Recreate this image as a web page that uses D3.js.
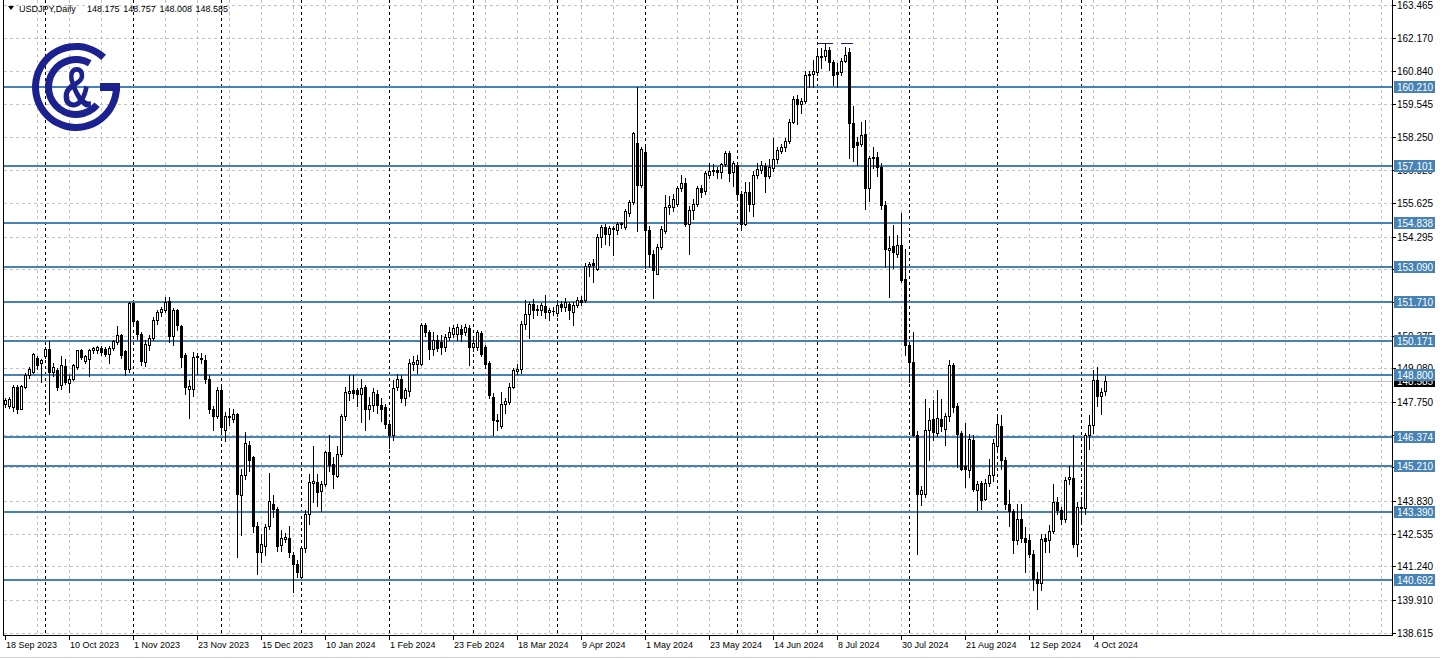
<!DOCTYPE html>
<html><head><meta charset="utf-8">
<script src="https://cdn.jsdelivr.net/npm/d3@7"></script>
<style>html,body{margin:0;padding:0;background:#fff;overflow:hidden}</style>
</head><body><svg id="c" width="1440" height="659"></svg>
<script>
// ---------- DATA ----------
const symbolTitle = "USDJPY,Daily";
const headerValues = ["148.175", "148.757", "148.008", "148.585"];
const startDate = "2023-09-18";
const holidays = ["2023-12-25", "2024-01-01"];

const opens = [147.65,147.60,147.55,148.34,147.48,148.35,148.83,148.95,149.49,149.30,
149.57,149.83,148.93,149.00,148.40,149.15,148.48,148.67,149.13,149.79,
149.38,149.46,149.79,149.80,149.88,149.86,149.66,149.90,150.12,150.39,
149.75,149.05,151.65,150.95,150.45,149.33,150.00,150.28,150.98,151.29,
151.40,151.73,150.35,151.38,150.75,149.59,148.26,148.27,149.53,149.45,
149.42,148.67,147.48,147.19,148.20,146.65,147.15,147.08,147.28,144.08,
144.84,146.05,145.56,142.85,141.80,142.06,142.85,143.71,143.52,142.07,
142.30,142.35,141.69,141.33,140.81,141.95,143.29,144.55,144.57,144.22,
144.48,145.76,145.30,144.81,145.67,147.17,148.10,148.20,148.20,148.07,
148.34,147.48,147.61,148.07,147.61,147.55,146.88,146.42,148.34,148.67,
147.92,148.17,149.26,149.26,149.26,150.78,150.52,149.86,150.19,150.12,
149.92,150.32,150.45,150.45,150.65,150.50,150.68,149.92,149.92,150.49,
149.92,149.29,147.94,146.98,146.80,147.65,147.74,148.34,148.97,149.06,
150.85,151.24,151.61,151.40,151.40,151.55,151.32,151.35,151.28,151.64,
151.51,151.64,151.30,151.57,151.78,151.77,153.13,153.25,153.00,154.28,
154.68,154.38,154.60,154.55,154.80,154.68,155.21,155.67,158.00,156.33,
157.65,154.55,153.62,152.83,153.89,154.51,155.45,155.47,155.60,156.20,
156.40,154.81,155.33,155.60,156.22,156.10,156.75,156.90,156.95,156.85,
157.15,157.60,156.86,157.12,155.99,154.81,156.04,155.60,156.75,156.95,
157.10,156.68,157.00,157.38,157.70,157.85,158.08,158.85,159.76,159.55,
159.65,160.70,160.75,160.80,161.42,161.45,161.70,161.22,160.80,160.80,
161.25,161.60,158.78,158.05,157.95,158.35,156.20,157.40,157.45,157.05,
155.54,153.78,153.91,153.62,153.98,152.63,149.99,149.33,146.42,144.11,
144.11,146.62,147.08,146.53,147.08,146.69,147.20,149.22,147.57,146.53,
145.19,145.04,146.25,144.25,144.53,143.91,144.53,144.87,146.00,146.78,
145.43,143.69,143.42,142.26,143.12,142.37,142.26,141.73,140.74,140.57,
142.37,142.26,142.62,143.78,143.45,143.12,144.70,144.75,142.13,143.58,
143.55,146.42,146.82,148.60,148.00,148.175];

const highs = [147.92,147.94,148.43,148.40,148.42,148.88,149.12,149.70,149.57,149.43,
149.93,150.15,149.30,149.10,149.57,149.45,148.80,149.25,149.82,149.83,
149.60,149.83,149.93,149.97,149.95,149.92,149.95,150.20,150.76,150.45,
149.80,151.72,151.72,151.00,150.50,150.19,150.39,151.09,151.40,151.50,
151.90,151.90,151.45,151.43,150.80,149.70,148.60,149.72,149.70,149.70,
149.60,148.80,147.60,148.35,148.47,147.35,147.50,147.48,147.30,145.10,
146.55,146.20,145.60,143.00,142.50,142.90,144.95,144.08,143.60,142.66,
142.55,142.85,141.80,141.50,142.05,143.45,144.90,146.00,144.90,144.60,
145.80,146.42,145.55,146.00,147.27,148.34,148.83,148.80,148.30,148.67,
148.40,147.95,148.30,148.20,147.90,147.65,147.00,148.60,148.85,148.80,
148.30,149.45,149.58,149.60,150.88,150.88,150.60,150.52,150.40,150.38,
150.45,150.72,150.80,150.85,150.80,150.85,150.80,150.25,150.60,150.55,
150.00,149.35,148.10,147.28,148.14,147.90,148.50,149.10,149.26,150.95,
151.80,151.70,151.84,151.60,151.65,151.97,151.45,151.50,151.73,151.75,
151.87,151.70,151.70,151.90,151.93,153.24,153.28,153.40,154.40,154.75,
154.79,154.72,154.70,154.86,154.88,155.37,155.75,158.45,160.23,157.86,
157.95,154.70,153.75,154.00,154.70,155.93,155.90,156.00,156.30,156.75,
156.60,155.50,155.80,156.30,156.35,156.90,157.20,157.15,157.05,157.20,
157.70,157.70,157.30,157.20,156.10,156.46,156.45,156.90,157.20,157.30,
157.20,157.35,158.18,157.85,157.95,158.20,158.95,159.85,159.90,159.80,
160.85,160.85,161.30,161.70,161.75,161.95,161.80,161.30,161.15,161.35,
161.80,161.75,159.45,158.25,158.84,158.90,157.50,157.85,157.65,157.20,
155.70,154.30,154.74,154.35,155.21,153.82,150.00,150.50,146.60,144.40,
147.87,147.52,147.81,148.20,147.88,147.30,149.39,149.30,147.70,146.60,
146.90,146.49,146.42,144.60,144.60,144.70,145.50,146.29,147.21,147.21,
145.55,144.24,143.50,143.71,143.70,142.80,142.50,141.90,141.00,142.50,
142.50,142.86,144.50,143.98,143.60,144.77,145.19,146.45,143.80,144.00,
146.50,147.24,149.00,149.13,148.30,148.757];

const lows = [147.55,147.51,147.37,147.30,147.45,148.30,148.70,148.90,149.06,148.54,
149.50,147.28,148.78,148.20,148.27,148.45,148.14,148.62,149.05,149.45,
149.30,148.78,149.70,149.70,149.62,149.58,149.30,149.80,150.05,149.50,
148.80,148.95,150.80,150.25,149.20,149.16,149.82,150.19,150.85,151.15,
151.30,150.12,150.02,150.60,149.12,148.05,147.11,147.97,148.87,149.30,
148.50,147.30,146.65,147.12,146.60,146.20,146.85,146.95,141.60,142.46,
144.70,145.00,142.60,140.94,141.40,141.70,142.70,143.20,141.85,141.84,
142.20,141.60,140.21,140.80,140.78,141.80,142.90,143.80,143.62,143.41,
144.40,145.00,144.35,144.78,145.60,147.02,147.84,147.90,147.60,146.97,
146.62,147.08,147.40,147.30,147.00,146.70,145.92,146.22,148.20,147.75,
147.61,148.00,149.00,148.90,149.20,150.35,149.46,149.60,149.75,149.66,
149.77,150.20,150.30,150.20,150.15,150.40,149.20,149.75,149.80,149.55,
149.10,147.90,146.42,146.62,146.70,147.30,147.65,148.30,148.85,148.90,
150.65,150.26,151.05,151.20,151.20,151.05,150.98,151.20,151.15,151.35,
151.35,151.03,150.80,151.50,151.57,151.70,152.75,152.50,152.97,153.90,
154.00,153.95,153.55,154.40,154.65,154.60,155.10,155.60,154.50,156.25,
153.05,153.10,151.85,152.80,153.80,154.45,155.20,155.30,155.50,156.10,
154.70,153.60,155.00,155.50,155.85,156.00,156.60,156.75,156.60,156.60,
157.10,156.50,156.30,155.75,154.55,154.75,155.30,155.10,156.60,156.80,
156.05,156.60,156.90,157.20,157.60,157.70,158.00,158.80,158.75,159.20,
159.60,160.20,160.20,160.70,160.96,161.30,160.90,160.30,160.20,160.70,
161.20,157.39,157.30,157.12,157.90,155.40,155.70,157.00,156.70,155.40,
153.09,151.90,153.03,153.50,152.50,149.59,148.54,146.40,141.73,143.65,
144.00,145.43,146.22,146.40,146.60,146.03,147.00,147.35,145.17,145.05,
144.37,144.77,144.20,143.45,143.50,143.85,144.40,144.60,145.90,145.10,
143.50,142.85,141.76,142.10,142.20,141.00,141.60,140.28,139.55,140.28,
141.80,141.80,142.55,143.30,142.90,143.00,144.50,142.00,141.65,142.95,
143.30,145.90,146.50,147.60,147.28,148.008];

const closes = [147.82,147.85,148.34,147.48,148.38,148.83,149.04,149.63,149.22,149.40,
149.83,148.93,149.13,148.34,149.20,148.55,148.67,149.20,149.79,149.53,
149.55,149.79,149.90,149.92,149.72,149.66,149.90,150.15,150.39,149.59,
149.05,151.65,150.95,150.45,149.35,150.05,150.28,151.01,151.31,151.44,
151.70,150.36,151.38,150.78,149.53,148.34,148.36,149.53,149.56,149.50,
148.67,147.48,147.19,148.20,146.75,147.20,147.20,147.28,144.11,144.84,
146.13,145.43,142.85,141.82,142.13,142.79,143.81,143.50,142.06,142.35,
142.40,141.80,141.33,141.00,141.97,143.29,144.57,144.62,144.18,144.48,
145.76,145.23,144.88,145.67,147.17,148.14,148.17,148.10,148.07,148.31,
147.48,147.61,148.14,147.61,147.45,146.88,146.42,148.31,148.67,147.92,
148.21,149.30,149.32,149.40,150.78,150.52,149.86,150.19,149.90,149.92,
150.32,150.52,150.67,150.70,150.45,150.72,149.92,150.08,150.52,149.66,
149.26,148.03,147.02,147.02,147.65,147.77,148.34,149.00,149.06,150.85,
151.24,151.61,151.37,151.44,151.57,151.32,151.38,151.36,151.57,151.51,
151.71,151.38,151.57,151.80,151.72,153.13,153.22,153.15,154.28,154.67,
154.39,154.65,154.62,154.81,154.85,155.31,155.67,158.38,156.33,157.78,
154.55,153.62,152.96,153.89,154.61,155.47,155.54,155.80,156.20,156.40,
154.81,155.33,155.60,156.20,156.05,156.80,156.90,156.95,156.85,157.15,
157.60,156.80,157.19,156.00,154.81,156.04,155.60,156.73,156.99,157.12,
156.68,157.05,157.38,157.72,157.85,158.08,158.85,159.76,159.55,159.68,
160.70,160.75,160.85,161.45,161.46,161.70,161.22,160.69,160.72,161.25,
161.50,158.78,157.85,157.94,158.31,156.20,157.40,157.45,157.05,155.55,
153.82,153.85,153.69,153.98,152.59,149.99,149.33,146.42,144.11,144.24,
146.62,147.04,146.55,147.12,146.79,147.17,149.22,147.55,146.49,145.10,
145.10,146.29,144.31,144.50,143.85,144.53,144.87,146.13,146.88,145.43,
143.69,143.42,142.26,143.12,142.37,142.20,141.73,140.74,140.57,142.33,
142.23,142.62,143.78,143.45,143.12,144.64,144.77,142.13,143.58,143.55,
146.42,146.82,148.60,148.00,148.13,148.585];

const levels = [160.210, 157.101, 154.838, 153.090, 151.710, 150.171, 148.800, 146.374, 145.210, 143.390, 140.692];
const lastPrice = 148.585;
const priceTicks = [163.465,162.170,160.840,159.545,158.250,156.920,155.625,154.295,153.000,151.705,150.375,149.080,147.750,146.455,145.160,143.830,142.535,141.240,139.910,138.615];
const dateTickLabels = ["18 Sep 2023","10 Oct 2023","1 Nov 2023","23 Nov 2023","15 Dec 2023","10 Jan 2024","1 Feb 2024","23 Feb 2024","18 Mar 2024","9 Apr 2024","1 May 2024","23 May 2024","14 Jun 2024","8 Jul 2024","30 Jul 2024","21 Aug 2024","12 Sep 2024","4 Oct 2024"];
const dateTickStep = 16;
const peakMarkers = [[203, 207, 161.95], [209, 212, 161.95]];

// ---------- TRADING DAYS ----------
const fmt = d3.timeFormat("%Y-%m-%d");
const dates = [];
{
  let d = d3.timeParse("%Y-%m-%d")(startDate);
  while (dates.length < closes.length) {
    const wd = d.getDay();
    if (wd !== 0 && wd !== 6 && !holidays.includes(fmt(d))) dates.push(new Date(d));
    d = d3.timeDay.offset(d, 1);
  }
}
const bars = dates.map((d, i) => ({d, i, o: opens[i], h: highs[i], l: lows[i], c: closes[i]}));
const monthStarts = bars.filter((b, i) => i > 0 && b.d.getMonth() !== bars[i - 1].d.getMonth()).map(b => b.i);

// ---------- LAYOUT ----------
const svg = d3.select("#c");
const L = 4, R = 1392, T = 0, B = 635;
const x = d3.scaleLinear().domain([0, 347]).range([5, 5 + 4 * 347]);
const y = d3.scaleLinear().domain([138.615, 163.465]).range([632.5, 5]);
const font = "'Liberation Sans', Arial, sans-serif";
const ry = v => Math.round(y(v));

svg.append("rect").attr("width", 1440).attr("height", 659).attr("fill", "#fff");

// grid
const grid = svg.append("g");
for (let k = 1; x(8 * k) < R; k++) {
  const xx = x(8 * k) + 0.5;
  grid.append("line").attr("x1", xx).attr("x2", xx).attr("y1", T).attr("y2", B)
    .attr("stroke", "#c3c3c3").attr("stroke-dasharray", "3,3");
}
priceTicks.forEach(p => {
  grid.append("line").attr("x1", L).attr("x2", R).attr("y1", ry(p) + 0.5).attr("y2", ry(p) + 0.5)
    .attr("stroke", "#c3c3c3").attr("stroke-dasharray", "3,3");
});
monthStarts.forEach(i => {
  const xx = x(i) + 0.5;
  grid.append("line").attr("x1", xx).attr("x2", xx).attr("y1", T).attr("y2", B)
    .attr("stroke", "#000").attr("stroke-dasharray", "3,3");
});

// last price line
svg.append("line").attr("x1", L).attr("x2", R).attr("y1", ry(lastPrice) + 0.5).attr("y2", ry(lastPrice) + 0.5)
  .attr("stroke", "#c0c0c0");

// levels
svg.append("g").selectAll("line").data(levels).join("line")
  .attr("x1", L).attr("x2", R).attr("y1", d => ry(d)).attr("y2", d => ry(d))
  .attr("stroke", "#4682b4").attr("stroke-width", 2);

// peak markers
peakMarkers.forEach(([a, b, p]) => {
  svg.append("line").attr("x1", x(a)).attr("x2", x(b)).attr("y1", ry(p) + 0.5).attr("y2", ry(p) + 0.5)
    .attr("stroke", "#1a1a80").attr("stroke-width", 1);
});

// candles
const cg = svg.append("g");
bars.forEach(b => {
  const px = x(b.i);
  cg.append("rect").attr("x", px).attr("width", 1)
    .attr("y", ry(b.h)).attr("height", Math.max(1, ry(b.l) - ry(b.h) + 1)).attr("fill", "#000");
  const top = ry(Math.max(b.o, b.c)), bot = ry(Math.min(b.o, b.c));
  const h = bot - top;
  if (b.c >= b.o) {
    if (h >= 2) {
      cg.append("rect").attr("x", px - 0.5).attr("y", top + 0.5).attr("width", 2).attr("height", h)
        .attr("fill", "#fff").attr("stroke", "#000").attr("stroke-width", 1);
    } else {
      cg.append("rect").attr("x", px - 1).attr("y", top).attr("width", 3).attr("height", h + 1).attr("fill", "#000");
    }
  } else {
    cg.append("rect").attr("x", px - 1).attr("y", top).attr("width", 3).attr("height", Math.max(1, h + 1)).attr("fill", "#000");
  }
});

// logo
const navy = "#1c2190";
const lg = svg.append("g").attr("transform", "translate(76,87)");
lg.append("path").attr("d", d3.arc()({innerRadius: 37, outerRadius: 44, startAngle: Math.PI / 2, endAngle: 403 / 180 * Math.PI})).attr("fill", navy);
lg.append("rect").attr("x", 24).attr("y", -4).attr("width", 20).attr("height", 8).attr("fill", navy);
lg.append("path").attr("d", d3.arc()({innerRadius: 24, outerRadius: 31, startAngle: 130 / 180 * Math.PI, endAngle: 390 / 180 * Math.PI})).attr("fill", navy);
lg.append("text").attr("transform", "translate(1,20) scale(0.74,1)").attr("text-anchor", "middle")
  .attr("font-family", font).attr("font-weight", "bold").attr("font-size", 57).attr("fill", navy).text("&");

// frame
svg.append("line").attr("x1", R + 0.5).attr("x2", R + 0.5).attr("y1", 0).attr("y2", B + 1).attr("stroke", "#000");
svg.append("line").attr("x1", L).attr("x2", R + 1).attr("y1", B + 0.5).attr("y2", B + 0.5).attr("stroke", "#000");
svg.append("line").attr("x1", 3.5).attr("x2", 3.5).attr("y1", 0).attr("y2", B + 1).attr("stroke", "#000");
svg.append("line").attr("x1", 0).attr("x2", 1440).attr("y1", 657.5).attr("y2", 657.5).attr("stroke", "#d0d0d0");

// price axis
const pa = svg.append("g");
priceTicks.forEach(p => {
  pa.append("line").attr("x1", R).attr("x2", R + 4).attr("y1", ry(p) + 0.5).attr("y2", ry(p) + 0.5).attr("stroke", "#000");
  pa.append("text").attr("x", 1397).attr("y", ry(p) + 4).attr("font-family", font).attr("font-size", 10)
    .attr("fill", "#000").text(p.toFixed(3));
});
// last price label (behind level labels)
pa.append("rect").attr("x", 1394).attr("y", ry(lastPrice) - 6).attr("width", 41).attr("height", 12).attr("fill", "#000");
pa.append("text").attr("x", 1397).attr("y", ry(lastPrice) + 4).attr("font-family", font).attr("font-size", 10)
  .attr("fill", "#fff").text(lastPrice.toFixed(3));
levels.forEach(p => {
  pa.append("rect").attr("x", 1394).attr("y", ry(p) - 6).attr("width", 41).attr("height", 12).attr("fill", "#4682b4");
  pa.append("text").attr("x", 1397).attr("y", ry(p) + 4).attr("font-family", font).attr("font-size", 10)
    .attr("fill", "#fff").text(p.toFixed(3));
});

// date axis
const da = svg.append("g");
dateTickLabels.forEach((t, k) => {
  const xx = x(k * dateTickStep);
  da.append("line").attr("x1", xx + 0.5).attr("x2", xx + 0.5).attr("y1", B).attr("y2", B + 5).attr("stroke", "#000");
  da.append("text").attr("x", xx + 1).attr("y", 648).attr("font-family", font).attr("font-size", 9)
    .attr("fill", "#000").text(t);
});

// header
svg.append("path").attr("d", "M8,6 L14,6 L11,10 Z").attr("fill", "#000");
svg.append("text").attr("x", 19).attr("y", 12).attr("font-family", font).attr("font-size", 9).attr("fill", "#000").text(symbolTitle);
headerValues.forEach((v, k) => {
  svg.append("text").attr("x", 87 + k * 36.2).attr("y", 12).attr("font-family", font).attr("font-size", 9).attr("fill", "#000").text(v);
});
</script>
</body></html>
